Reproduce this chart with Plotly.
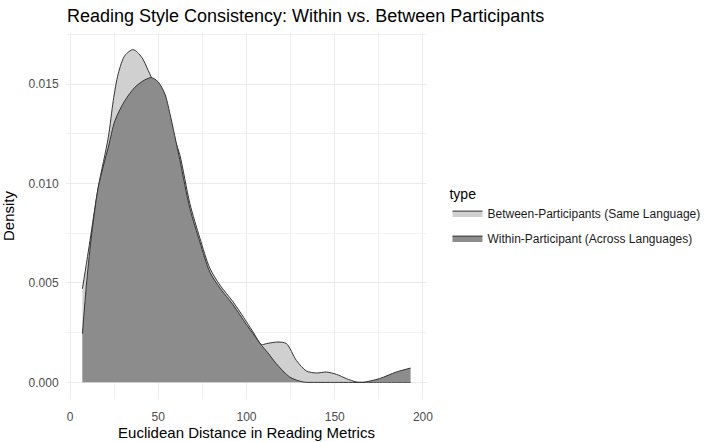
import plotly.graph_objects as go

# Between-Participants (Same Language) density
between_x = [7.0, 9.5, 11.3, 16.0, 21.7, 24.5, 27.3, 31.1, 35.8, 40.6, 44.3, 48.1, 53.8,
             59.4, 62.2, 67.9, 73.6, 79.2, 84.9, 92.4, 100.0, 104.0, 108.5, 111.3, 117.9,
             122.6, 128.3, 134.0, 139.6, 145.3, 151.0, 156.6, 162.3, 168.0, 180.0, 193.0]
between_y = [0.00471, 0.00610, 0.00714, 0.00982, 0.01234, 0.01418, 0.01553, 0.01645, 0.01674,
             0.01636, 0.01569, 0.01495, 0.01375, 0.01220, 0.01145, 0.00900, 0.00725, 0.00575,
             0.00490, 0.00405, 0.00305, 0.00250, 0.00190, 0.00195, 0.00203, 0.00195, 0.00110,
             0.00057, 0.00047, 0.00052, 0.00040, 0.00019, 0.00002, 0.0, 0.0, 0.0]

# Within-Participant (Across Languages) density
within_x = [7.0, 9.5, 12.3, 16.0, 21.7, 25.5, 31.1, 36.8, 42.4, 46.2, 50.0, 53.8, 56.6,
            62.2, 67.9, 73.6, 79.2, 84.9, 92.4, 100.0, 103.7, 108.5, 112.0, 116.9, 124.5,
            132.0, 140.0, 150.0, 160.0, 166.0, 175.4, 184.9, 193.0]
within_y = [0.00245, 0.00513, 0.00748, 0.00982, 0.01184, 0.01318, 0.01418, 0.01485, 0.01522,
            0.01533, 0.01511, 0.01450, 0.01352, 0.01120, 0.00875, 0.00705, 0.00555, 0.00475,
            0.00390, 0.00290, 0.00245, 0.00186, 0.00150, 0.00094, 0.00027, 0.00002, 0.0, 0.0,
            0.0, 0.0, 0.00019, 0.00052, 0.00072]

x_ticks = [0, 50, 100, 150, 200]
y_ticks = [0.000, 0.005, 0.010, 0.015]
y_tick_labels = ["0.000", "0.005", "0.010", "0.015"]

font_family = "Liberation Sans, Arial, sans-serif"

fig = go.Figure()
fig.add_trace(go.Scatter(
    x=between_x, y=between_y, name="Between-Participants (Same Language)",
    legendgroup="between",
    mode="lines", line=dict(color="#333333", width=1, shape="spline", smoothing=0.8),
    fill="tozeroy", fillcolor="#d0d0d0"))
fig.add_trace(go.Scatter(
    x=within_x, y=within_y, name="Within-Participant (Across Languages)",
    legendgroup="within",
    mode="lines", line=dict(color="#333333", width=1, shape="spline", smoothing=0.8),
    fill="tozeroy", fillcolor="#8c8c8c"))

fig.update_layout(
    width=713, height=442,
    margin=dict(l=66, r=285.5, t=32.6, b=43.4, autoexpand=False),
    paper_bgcolor="white", plot_bgcolor="white",
    font=dict(family=font_family, color="#1a1a1a"),
    title=dict(text="Reading Style Consistency: Within vs. Between Participants",
               xref="container", yref="container",
               x=67 / 713, xanchor="left", y=1 - 16 / 442, yanchor="middle",
               font=dict(size=18, color="black")),
    legend=dict(title=dict(text="type", font=dict(size=14, color="black")),
                x=(448 - 66) / 361.5, xanchor="left", y=(398.6 - 180) / 366, yanchor="top",
                font=dict(size=12, color="#1a1a1a"), itemwidth=30, traceorder="grouped",
                tracegroupgap=6, bgcolor="rgba(0,0,0,0)"),
    xaxis=dict(range=[-2.3, 202.3], tickvals=x_ticks, ticktext=[str(v) for v in x_ticks],
               automargin=False,
               showgrid=True, gridcolor="#ebebeb", gridwidth=1, zeroline=False, showline=False,
               ticks="outside", ticklen=7, tickcolor="rgba(0,0,0,0)",
               tickfont=dict(size=12, color="#4d4d4d"),
               minor=dict(dtick=25, tick0=0, showgrid=True, gridcolor="#f2f2f2", gridwidth=0.6),
               title=dict(text="Euclidean Distance in Reading Metrics", font=dict(size=15, color="black"),
                          standoff=2)),
    yaxis=dict(range=[-0.000837, 0.017577], tickvals=y_ticks, ticktext=y_tick_labels,
               automargin=False,
               showgrid=True, gridcolor="#ebebeb", gridwidth=1, zeroline=False, showline=False,
               ticks="outside", ticklen=4, tickcolor="rgba(0,0,0,0)",
               tickfont=dict(size=12, color="#4d4d4d"),
               minor=dict(dtick=0.0025, tick0=0, showgrid=True, gridcolor="#f2f2f2", gridwidth=0.6),
               title=dict(text="Density", font=dict(size=15, color="black"), standoff=10)),
)

fig.write_html("out.html", config={"displayModeBar": False},
               post_script="document.body.style.margin='0';")
